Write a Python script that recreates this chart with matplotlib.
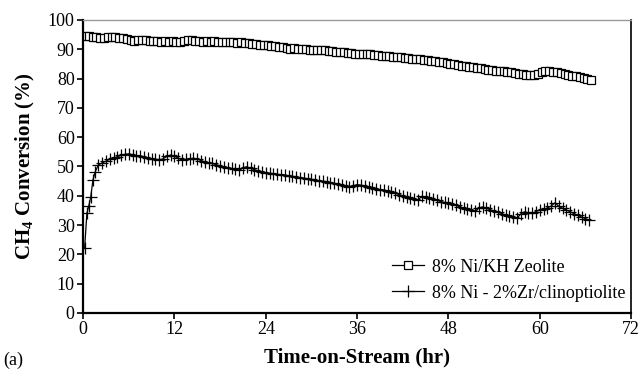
import numpy as np
import matplotlib
matplotlib.use('Agg')
import matplotlib.pyplot as plt

plt.rcParams['font.family'] = ['Liberation Serif', 'DejaVu Serif']
plt.rcParams['mathtext.fontset'] = 'custom'
plt.rcParams['mathtext.rm'] = 'Liberation Serif'
plt.rcParams['mathtext.bf'] = 'Liberation Serif:bold'

# 8% Ni/KH Zeolite (readings every 0.5 hr)
t_zeo = np.arange(0.25, 67.0, 0.5)
ch4_zeo = [
    94.6, 94.4, 94.2, 94.1, 93.9, 94.0, 94.2, 94.1, 94.3, 94.0, 93.8, 93.6,
    93.0, 92.9, 93.1, 93.2, 93.0, 92.8, 92.9, 92.7, 92.6, 92.8, 92.5, 92.7,
    92.6, 92.4, 92.8, 93.0, 93.1, 92.9, 92.7, 92.6, 92.8, 92.5, 92.7, 92.6,
    92.6, 92.4, 92.5, 92.3, 92.2, 92.4, 92.1, 92.0, 91.8, 91.9, 91.6, 91.5,
    91.3, 91.2, 91.0, 90.8, 90.6, 90.4, 90.2, 90.5, 90.1, 90.0, 90.2, 89.9,
    89.8, 89.9, 89.7, 89.6, 89.5, 89.3, 89.2, 89.0, 88.9, 88.7, 88.6, 88.5,
    88.4, 88.3, 88.5, 88.2, 88.0, 87.9, 87.8, 87.6, 87.7, 87.5, 87.3, 87.2,
    87.0, 86.9, 86.8, 86.7, 86.5, 86.4, 86.2, 86.0, 85.9, 85.7, 85.5, 85.3,
    85.1, 84.9, 84.6, 84.4, 84.2, 84.0, 83.9, 83.7, 83.5, 83.2, 83.0, 82.9,
    82.7, 82.6, 82.4, 82.2, 82.1, 81.9, 81.7, 81.5, 81.2, 81.1, 81.3, 81.6,
    82.2, 82.5, 82.4, 82.3, 82.1, 81.8, 81.5, 81.2, 81.0, 80.8, 80.5, 80.2,
    79.9, 79.6,
]

# 8% Ni - 2%Zr/clinoptiolite
t_zr = [0.2, 0.5, 0.75, 1.0, 1.3, 1.6, 2.0] + list(np.arange(2.5, 66.75, 0.5))
ch4_zr = [
    22.0, 34.0, 36.5, 39.5, 45.4, 48.2, 50.5,
    51.2, 51.8, 52.4, 52.9, 53.3, 53.8, 54.1, 54.3, 54.0, 53.6, 53.7, 53.3,
    52.9, 52.7, 52.5, 52.2, 52.6, 53.4, 53.9, 53.5, 52.8, 52.2, 52.4, 52.6,
    52.8, 52.5, 52.0, 51.6, 51.3, 51.0, 50.6, 50.2, 49.9, 49.6, 49.3, 49.0,
    48.8, 49.5, 49.9, 49.4, 48.9, 48.5, 48.2, 47.9, 47.7, 47.5, 47.3, 47.2,
    47.1, 46.8, 46.6, 46.4, 46.2, 46.0, 45.8, 45.6, 45.3, 45.1, 45.0, 44.8,
    44.5, 44.2, 43.9, 43.6, 43.3, 43.1, 43.4, 43.8, 43.6, 43.3, 43.0, 42.7,
    42.4, 42.1, 42.0, 41.6, 41.2, 40.8, 40.4, 40.0, 39.7, 39.3, 39.0, 38.6,
    39.8, 39.5, 39.1, 38.8, 38.4, 38.0, 37.7, 37.4, 37.1, 36.7, 36.2, 35.8,
    35.4, 35.0, 34.7, 35.8, 36.2, 35.7, 35.2, 34.8, 34.3, 33.9, 33.4, 33.0,
    32.6, 32.3, 33.8, 34.5, 34.2, 34.0, 34.6, 35.1, 35.4, 35.8, 36.5, 37.6,
    36.4, 35.7, 35.1, 34.5, 33.9, 33.3, 32.7, 32.2, 31.6,
]

fig = plt.figure(figsize=(6.44, 3.69), dpi=100)
ax = fig.add_axes([0.129, 0.152, 0.851, 0.794])

ax.plot(t_zeo, ch4_zeo, color='black', lw=0.9, marker='s', ms=5.5,
        mfc='white', mec='black', mew=0.9, label='8% Ni/KH Zeolite')
ax.plot(t_zr, ch4_zr, color='black', lw=0.9, marker='+', ms=8,
        mew=0.9, label='8% Ni - 2%Zr/clinoptiolite')

ax.set_xlim(0, 72)
ax.set_ylim(0, 100)
ax.set_xticks(np.arange(0, 73, 12))
ax.set_yticks(np.arange(0, 101, 10))
ax.tick_params(direction='out', length=4, width=1.2, labelsize=13, pad=2)
for s in ['left', 'bottom']:
    ax.spines[s].set_linewidth(1.6)
ax.spines['right'].set_linewidth(1.2)
ax.spines['top'].set_linewidth(1.0)
ax.spines['top'].set_color('#999999')

ax.set_ylabel(r'CH$_\mathbf{4}$ Conversion (%)', fontsize=15, fontweight='bold', labelpad=8)
ax.set_xlabel('Time-on-Stream (hr)', fontsize=15, fontweight='bold', labelpad=7)
fig.text(0.005, 0.01, '(a)', fontsize=13)

ax.legend(loc='lower right', frameon=False, fontsize=13, handlelength=1.8,
          handletextpad=0.45, labelspacing=0.5, borderaxespad=0.0,
          borderpad=0.3, bbox_to_anchor=(1.0, 0.02))

fig.savefig('out.png', dpi=100)
